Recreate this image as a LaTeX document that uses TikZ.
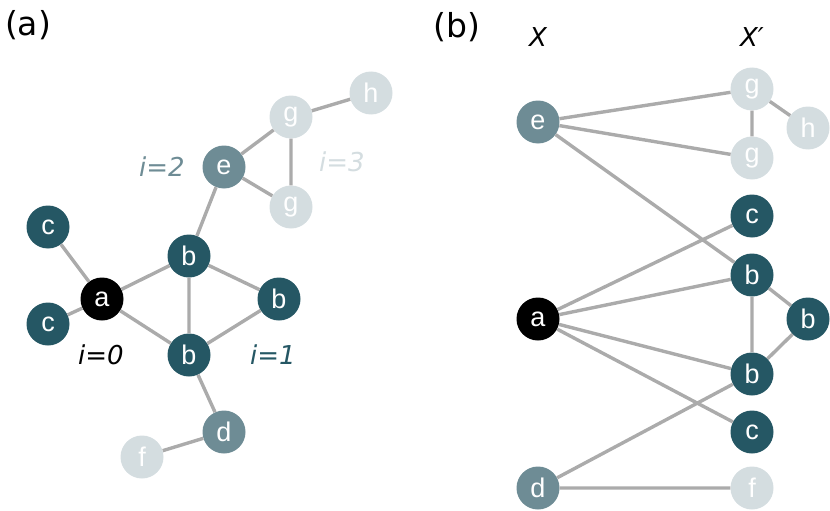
\documentclass[tikz,border=0pt]{standalone}
\usepackage{fontspec}
\setmainfont{DejaVu Sans}
\newfontfamily\nodefont{Liberation Sans}
\definecolor{dk}{HTML}{255764}
\definecolor{md}{HTML}{6E8C95}
\definecolor{lt}{HTML}{D4DDE0}
\definecolor{eg}{HTML}{ABABAB}
\tikzset{
  vx/.style={circle,minimum size=43pt,inner sep=0pt,text=white,font=\nodefont\fontsize{27}{27}\selectfont},
  vblack/.style={vx,fill=black},
  vdark/.style={vx,fill=dk},
  vmid/.style={vx,fill=md},
  vlight/.style={vx,fill=lt},
  edge/.style={draw=eg,line width=3.4pt},
  lbl/.style={font=\fontsize{26}{26}\selectfont\itshape},
  panel/.style={font=\fontsize{33}{33}\selectfont}
}
\begin{document}
\begin{tikzpicture}[x=1pt,y=-1pt]
\useasboundingbox (0,0) rectangle (830,511);
% panel (a)
\node[panel] (pa) at (28,25) {(a)};
\node[vlight] (ah) at (371,93) {h};
\node[vlight] (ag1) at (291,117) {g};
\node[vmid] (ae) at (224,167) {e};
\node[vlight] (ag2) at (291,207) {g};
\node[vdark] (ac1) at (48,227) {c};
\node[vdark] (ab1) at (189,256) {b};
\node[vblack] (aa) at (102,299) {a};
\node[vdark] (ac2) at (48,324) {c};
\node[vdark] (ab2) at (279,299) {b};
\node[vdark] (ab3) at (189,355) {b};
\node[vmid] (ad) at (224,432) {d};
\node[vlight] (af) at (142,457) {f};
\node[lbl,text=md] (l2) at (162,167) {i=2};
\node[lbl,text=lt] (l3) at (342,162) {i=3};
\node[lbl,text=black] (l0) at (101,355) {i=0};
\node[lbl,text=dk] (l1) at (273,355) {i=1};
% panel (b)
\node[panel] (pb) at (457,27) {(b)};
\node[lbl] (lx) at (538,37) {X};
\node[lbl] (lxp) at (752,37) {X′};
\node[vlight] (bg1) at (752,89) {g};
\node[vlight] (bh) at (808,128) {h};
\node[vmid] (be) at (538,122) {e};
\node[vlight] (bg2) at (752,158) {g};
\node[vdark] (bc1) at (752,216) {c};
\node[vdark] (bb1) at (752,275) {b};
\node[vblack] (ba) at (538,319) {a};
\node[vdark] (bb2) at (808,319) {b};
\node[vdark] (bb3) at (752,374) {b};
\node[vdark] (bc2) at (752,432) {c};
\node[vmid] (bd) at (538,488) {d};
\node[vlight] (bf) at (752,488) {f};
% edges (a)
\path[edge] (ac1) -- (aa) (ac2) -- (aa) (aa) -- (ab1) (aa) -- (ab3)
  (ab1) -- (ab3) (ab1) -- (ab2) (ab2) -- (ab3) (ab1) -- (ae)
  (ae) -- (ag1) (ae) -- (ag2) (ag1) -- (ag2) (ag1) -- (ah)
  (ab3) -- (ad) (ad) -- (af);
% edges (b)
\path[edge] (be) -- (bg1) (be) -- (bg2) (be) -- (bb1) (bg1) -- (bg2) (bg1) -- (bh)
  (ba) -- (bc1) (ba) -- (bb1) (ba) -- (bb3) (ba) -- (bc2)
  (bb1) -- (bb3) (bb1) -- (bb2) (bb2) -- (bb3)
  (bd) -- (bb3) (bd) -- (bf);
\end{tikzpicture}
\end{document}
